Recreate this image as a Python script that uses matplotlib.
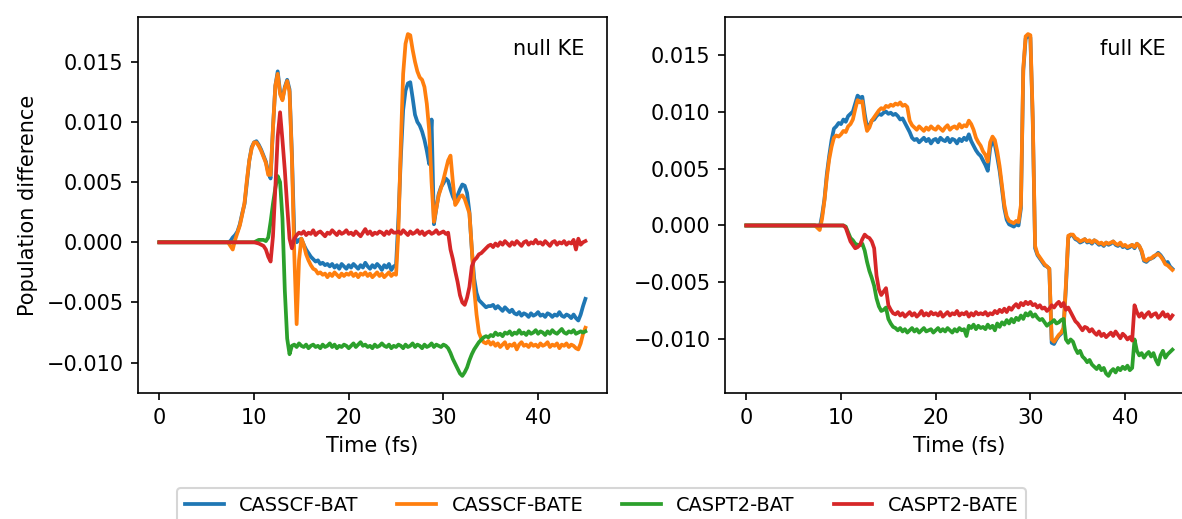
import matplotlib.pyplot as plt
import numpy as np

# population differences, in units of 1e-3, sampled every 0.25 fs from 0 to 45 fs
dt = 0.25

# ---- null KE ----
null_casscf_bat = [
    0, 0, 0, 0, 0, 0, 0, 0, 0, 0, 0, 0, 0, 0, 0, 0, 0, 0, 0, 0,
    0, 0, 0, 0, 0, 0, 0, 0, 0, 0, 0.1, 0.4, 0.6, 0.9, 1.5, 2.4, 3.2, 5.0, 6.8, 7.9,
    8.3, 8.4, 8.1, 7.7, 7.2, 6.7, 5.8, 5.3, 9.5, 13.0, 14.2, 12.5, 11.9, 12.9, 13.5, 12.7, 7.3, 0.6, 0.0, 0.2,
    0.3, -0.2, -0.6, -0.9, -1.2, -1.4, -1.6, -1.5, -1.8, -1.7, -1.9, -1.8, -2.0, -1.8, -2.1, -1.9, -2.2, -1.8, -2.0, -2.2,
    -1.9, -2.1, -1.8, -2.0, -2.2, -1.9, -2.1, -1.7, -2.0, -2.2, -1.9, -2.1, -1.8, -2.0, -2.3, -1.9, -2.1, -1.8, -2.3, -2.0,
    -1.9, 2.0, 7.0, 11.0, 12.6, 13.2, 13.3, 12.0, 10.6, 10.0, 9.7, 9.2, 8.5, 7.6, 6.5, 10.2, 1.5, 2.8, 4.0, 4.6,
    4.9, 5.3, 5.1, 4.4, 3.8, 3.4, 3.9, 4.4, 4.8, 4.7, 4.1, 2.5, -0.6, -3.0, -4.2, -4.8, -5.0, -5.2, -5.4, -5.3,
    -5.3, -5.2, -5.5, -5.3, -5.5, -5.7, -5.4, -5.6, -5.8, -5.6, -5.9, -6.0, -5.8, -6.1, -5.9, -6.0, -6.2, -5.9, -6.1, -6.0,
    -5.8, -6.1, -6.0, -6.2, -5.9, -6.0, -6.2, -6.0, -6.1, -5.8, -6.1, -6.2, -6.0, -6.1, -6.3, -6.0, -6.3, -6.5, -6.0, -5.3,
    -4.7]
null_casscf_bate = [
    0, 0, 0, 0, 0, 0, 0, 0, 0, 0, 0, 0, 0, 0, 0, 0, 0, 0, 0, 0,
    0, 0, 0, 0, 0, 0, 0, 0, 0, 0, -0.3, -0.6, 0.2, 0.8, 1.4, 2.3, 3.3, 5.2, 6.8, 7.8,
    8.3, 8.3, 8.0, 7.6, 7.1, 6.6, 5.6, 5.6, 9.5, 13.0, 14.0, 12.3, 11.8, 12.8, 13.4, 12.5, 7.0, -1.0, -6.8, -1.5,
    0.3, -0.2, -1.0, -1.5, -1.9, -2.2, -2.3, -2.6, -2.5, -2.7, -2.6, -2.9, -2.6, -2.8, -2.5, -2.7, -2.9, -2.6, -2.8, -2.6,
    -2.7, -2.5, -2.8, -2.6, -2.9, -2.6, -2.7, -2.5, -2.8, -2.6, -2.9, -2.7, -2.5, -2.8, -2.6, -2.9, -2.7, -2.5, -2.8, -2.6,
    -2.7, 1.0, 8.0, 14.0, 16.5, 17.3, 17.2, 16.0, 15.0, 14.2, 13.7, 13.5, 12.9, 11.5, 9.3, 5.0, 1.7, 2.8, 3.9, 4.5,
    5.2, 6.0, 6.8, 7.2, 5.0, 3.1, 3.4, 3.8, 3.9, 3.6, 3.0, 2.4, -0.5, -3.9, -6.0, -7.5, -8.0, -8.3, -8.4, -8.2,
    -8.5, -8.3, -8.6, -8.4, -8.7, -8.5, -8.3, -8.8, -8.5, -8.6, -8.4, -8.9, -8.5, -8.3, -8.6, -8.5, -8.7, -8.4, -8.6, -8.5,
    -8.7, -8.4, -8.6, -8.5, -8.3, -8.7, -8.5, -8.6, -8.4, -8.8, -8.5, -8.6, -8.4, -8.7, -8.5, -8.6, -8.8, -8.9, -8.4, -7.6,
    -7.1]
null_caspt2_bat = [
    0, 0, 0, 0, 0, 0, 0, 0, 0, 0, 0, 0, 0, 0, 0, 0, 0, 0, 0, 0,
    0, 0, 0, 0, 0, 0, 0, 0, 0, 0, 0, 0, 0, 0, 0, 0, 0, 0, 0, 0,
    0.0, 0.1, 0.2, 0.2, 0.2, 0.1, 0.4, 1.7, 3.2, 4.5, 5.5, 5.0, 2.0, -4.0, -8.0, -9.3, -8.6, -8.5, -8.7, -8.4,
    -8.6, -8.7, -8.5, -8.8, -8.6, -8.5, -8.7, -8.6, -8.8, -8.5, -8.7, -8.6, -8.4, -8.7, -8.5, -8.8, -8.6, -8.7, -8.5, -8.6,
    -8.8, -8.6, -8.4, -8.7, -8.5, -8.3, -8.6, -8.5, -8.7, -8.6, -8.8, -8.5, -8.7, -8.6, -8.4, -8.6, -8.7, -8.5, -8.8, -8.6,
    -8.7, -8.5, -8.6, -8.8, -8.5, -8.7, -8.6, -8.4, -8.7, -8.5, -8.6, -8.8, -8.5, -8.7, -8.6, -8.4, -8.7, -8.5, -8.6, -8.7,
    -8.5, -8.6, -8.8, -9.2, -9.7, -10.1, -10.5, -10.9, -11.1, -10.8, -10.4, -9.8, -9.3, -8.9, -8.6, -8.3, -8.1, -7.9, -7.8, -7.9,
    -7.7, -7.8, -7.5, -7.7, -7.6, -7.8, -7.5, -7.6, -7.4, -7.7, -7.5, -7.6, -7.3, -7.6, -7.5, -7.7, -7.4, -7.6, -7.5, -7.3,
    -7.6, -7.4, -7.5, -7.7, -7.4, -7.6, -7.3, -7.5, -7.6, -7.4, -7.2, -7.5, -7.6, -7.4, -7.5, -7.3, -7.6, -7.5, -7.4, -7.5,
    -7.4]
null_caspt2_bate = [
    0, 0, 0, 0, 0, 0, 0, 0, 0, 0, 0, 0, 0, 0, 0, 0, 0, 0, 0, 0,
    0, 0, 0, 0, 0, 0, 0, 0, 0, 0, 0, 0, 0, 0, 0, 0, 0, 0, 0, 0,
    0.0, -0.05, -0.1, -0.2, -0.3, -0.6, -1.2, -1.6, 0.5, 4.5, 8.8, 10.8, 8.5, 6.0, 3.0, 0.3, -0.5, 0.3, 0.6, 0.8,
    0.7, 0.9, 0.6, 0.8, 0.7, 1.0, 0.6, 0.8, 0.9, 0.7, 0.5, 0.8, 0.7, 1.0, 0.8, 0.6, 0.9, 0.7, 0.8, 1.0,
    0.7, 0.8, 0.6, 0.9, 0.7, 0.5, 0.8, 1.1, 0.7, 0.9, 0.6, 0.8, 0.7, 0.9, 0.8, 0.6, 0.9, 0.7, 1.0, 0.8,
    0.8, 0.9, 0.7, 1.0, 0.8, 0.6, 0.9, 0.7, 0.8, 1.0, 0.7, 0.9, 0.6, 0.8, 0.9, 0.7, 0.8, 1.0, 0.7, 0.8,
    0.9, 0.7, 0.8, -0.6, -1.4, -2.4, -3.3, -4.4, -5.0, -5.2, -4.6, -3.7, -2.0, -1.5, -1.3, -1.0, -0.9, -0.7, -0.5, -0.3,
    -0.2, -0.4, -0.1, -0.3, 0.0, -0.2, 0.1, -0.1, -0.3, 0.0, -0.2, 0.1, -0.1, -0.3, 0.0, 0.1, -0.2, 0.0, -0.1, 0.2,
    -0.1, 0.0, -0.2, 0.1, -0.1, -0.3, 0.0, 0.1, -0.2, 0.0, -0.1, 0.1, -0.2, 0.0, -0.1, 0.2, -0.6, 0.3, -0.2, 0.0,
    0.1]

# ---- full KE ----
full_casscf_bat = [
    0, 0, 0, 0, 0, 0, 0, 0, 0, 0, 0, 0, 0, 0, 0, 0, 0, 0, 0, 0,
    0, 0, 0, 0, 0, 0, 0, 0, 0, 0, -0.1, -0.2, 0.9, 2.3, 4.5, 6.1, 7.5, 8.5, 8.7, 9.0,
    8.9, 9.3, 9.1, 9.6, 9.8, 10.0, 10.7, 11.4, 11.2, 11.3, 9.8, 8.6, 8.8, 9.2, 9.3, 9.6, 9.8, 9.7, 9.9, 10.0,
    9.8, 9.9, 9.7, 9.8, 9.6, 9.3, 9.4, 9.0, 8.6, 8.2, 7.7, 7.5, 7.6, 7.3, 7.5, 7.7, 7.4, 7.6, 7.2, 7.5,
    7.6, 7.3, 7.7, 7.5, 7.4, 7.7, 7.3, 7.6, 7.5, 7.2, 7.6, 7.4, 7.7, 7.5, 8.0, 7.4, 7.0, 6.6, 6.3, 6.1,
    5.7, 5.3, 4.8, 6.8, 7.4, 7.1, 6.0, 4.8, 3.2, 1.5, 0.5, 0.1, 0.0, -0.1, 0.1, 0.0, 1.5, 13.6, 16.4, 16.6,
    16.5, 9.2, -2.0, -2.6, -2.9, -3.2, -3.5, -3.6, -3.8, -10.3, -10.4, -10.0, -9.7, -9.5, -9.1, -5.5, -1.1, -0.8, -0.9, -1.2,
    -1.3, -1.5, -1.4, -1.2, -1.5, -1.4, -1.6, -1.3, -1.5, -1.7, -1.6, -1.8, -1.5, -1.7, -1.6, -1.4, -1.7, -1.8, -1.6, -1.9,
    -1.8, -2.0, -1.9, -1.7, -2.0, -1.6, -1.8, -2.3, -3.1, -3.2, -3.0, -2.9, -2.8, -2.6, -2.4, -2.6, -2.9, -3.3, -3.2, -3.6,
    -3.8]
full_casscf_bate = [
    0, 0, 0, 0, 0, 0, 0, 0, 0, 0, 0, 0, 0, 0, 0, 0, 0, 0, 0, 0,
    0, 0, 0, 0, 0, 0, 0, 0, 0, 0, -0.2, -0.4, 0.6, 2.2, 4.2, 5.8, 6.9, 7.7, 7.9, 7.8,
    8.0, 8.3, 8.2, 8.7, 8.9, 9.3, 10.2, 11.0, 10.8, 10.9, 9.3, 8.3, 8.6, 9.2, 9.5, 9.8, 10.1, 10.3, 10.2, 10.5,
    10.4, 10.6, 10.5, 10.7, 10.6, 10.8, 10.5, 10.6, 10.4, 9.2, 8.8, 8.6, 8.4, 8.7, 8.5, 8.3, 8.6, 8.4, 8.7, 8.5,
    8.4, 8.7, 8.5, 8.3, 8.6, 8.8, 8.4, 8.6, 8.7, 8.5, 8.9, 8.6, 8.8, 8.7, 9.2, 8.9, 8.4, 7.7, 7.3, 7.0,
    6.5, 6.2, 5.6, 7.3, 7.8, 7.5, 6.5, 5.2, 3.5, 1.8, 0.8, 0.4, 0.3, 0.2, 0.4, 0.3, 1.8, 13.8, 16.6, 16.8,
    16.7, 9.5, -1.8, -2.5, -2.8, -3.1, -3.4, -3.6, -3.8, -10.0, -10.2, -9.9, -9.6, -9.4, -9.0, -5.2, -0.9, -0.8, -0.8, -1.1,
    -1.2, -1.4, -1.3, -1.2, -1.4, -1.3, -1.5, -1.3, -1.4, -1.6, -1.5, -1.7, -1.5, -1.6, -1.5, -1.4, -1.6, -1.7, -1.5, -1.8,
    -1.7, -1.9, -1.8, -1.7, -1.9, -1.6, -1.8, -2.2, -3.0, -3.1, -2.9, -2.9, -2.7, -2.6, -2.5, -2.7, -3.0, -3.4, -3.5, -3.7,
    -3.9]
full_caspt2_bat = [
    0, 0, 0, 0, 0, 0, 0, 0, 0, 0, 0, 0, 0, 0, 0, 0, 0, 0, 0, 0,
    0, 0, 0, 0, 0, 0, 0, 0, 0, 0, 0, 0, 0, 0, 0, 0, 0, 0, 0, 0,
    0.0, 0.0, -0.1, -0.6, -1.1, -1.3, -1.6, -1.7, -1.7, -1.6, -2.2, -3.2, -4.0, -4.6, -5.3, -6.4, -7.1, -7.5, -7.4, -7.2,
    -8.2, -8.6, -8.9, -9.0, -9.2, -9.0, -9.3, -9.1, -9.4, -9.2, -9.0, -9.3, -9.1, -9.4, -9.2, -9.0, -9.3, -9.2, -9.1, -9.4,
    -9.2, -9.0, -9.3, -9.1, -9.3, -9.0, -9.2, -9.4, -9.1, -9.3, -9.0, -9.2, -9.1, -9.7, -8.8, -9.0, -8.7, -9.1, -8.8, -9.0,
    -8.9, -9.1, -8.7, -9.0, -8.8, -9.2, -8.6, -8.9, -8.5, -8.7, -8.3, -8.6, -8.2, -8.5, -8.1, -8.3, -7.9, -8.2, -7.7, -7.9,
    -7.6, -8.0, -7.8, -8.1, -8.3, -8.2, -8.5, -8.8, -8.6, -8.5, -8.3, -8.6, -8.5, -8.3, -8.2, -10.0, -10.3, -10.0, -10.2, -10.8,
    -11.2, -11.0, -11.5, -11.7, -12.0, -11.8, -12.2, -12.4, -12.6, -12.3, -12.7, -12.5, -13.0, -13.2, -12.8, -12.6, -12.9, -12.5, -12.7, -12.4,
    -12.6, -12.3, -12.7, -12.5, -10.0, -11.0, -11.4, -11.2, -11.6, -11.3, -11.1, -11.5, -11.2, -11.8, -12.2, -11.4, -11.0, -11.6, -11.3, -11.1,
    -10.9]
full_caspt2_bate = [
    0, 0, 0, 0, 0, 0, 0, 0, 0, 0, 0, 0, 0, 0, 0, 0, 0, 0, 0, 0,
    0, 0, 0, 0, 0, 0, 0, 0, 0, 0, 0, 0, 0, 0, 0, 0, 0, 0, 0, 0,
    0.0, 0.0, -0.2, -0.8, -1.4, -1.7, -2.0, -1.9, -1.7, -1.2, -0.8, -1.0, -1.1, -1.4, -2.0, -4.4, -5.6, -6.1, -5.8, -5.5,
    -7.0, -7.4, -7.7, -7.8, -7.6, -7.9, -7.7, -8.0, -7.8, -7.6, -7.9, -7.7, -8.0, -7.8, -7.5, -7.9, -7.7, -7.9, -7.6, -7.8,
    -7.7, -7.9, -7.6, -8.0, -7.8, -7.6, -7.9, -7.7, -7.8, -7.5, -7.9, -7.7, -7.8, -7.6, -8.0, -7.7, -7.9, -7.6, -7.8, -7.7,
    -7.8, -7.6, -7.9, -7.7, -7.8, -7.5, -7.7, -7.4, -7.6, -7.3, -7.6, -7.2, -7.4, -7.1, -6.9, -7.2, -6.8, -7.0, -6.7, -6.9,
    -6.7, -7.0, -6.9, -7.2, -7.0, -7.3, -7.2, -7.5, -7.3, -7.0, -7.2, -6.9, -6.7, -7.1, -6.8, -7.4, -7.2, -7.6, -8.0, -8.4,
    -8.6, -8.9, -9.2, -8.9, -9.0, -9.3, -9.1, -9.4, -9.6, -9.3, -9.7, -9.5, -9.8, -9.6, -9.4, -9.7, -9.3, -9.6, -9.9, -9.5,
    -9.7, -10.0, -9.8, -10.1, -7.0, -7.6, -8.0, -7.7, -8.1, -7.8, -7.6, -8.0, -7.8, -7.7, -8.1, -7.9, -7.6, -8.0, -7.8, -8.2,
    -7.9]

labels = ['CASSCF-BAT', 'CASSCF-BATE', 'CASPT2-BAT', 'CASPT2-BATE']
panels = [
    ('null KE', [null_casscf_bat, null_casscf_bate, null_caspt2_bat, null_caspt2_bate]),
    ('full KE', [full_casscf_bat, full_casscf_bate, full_caspt2_bat, full_caspt2_bate]),
]

fig = plt.figure(figsize=(1182 / 150, 519 / 150), dpi=150)
ax1 = fig.add_axes([0.1168, 0.2428, 0.3965, 0.7245])
ax2 = fig.add_axes([0.6134, 0.2428, 0.3965, 0.7245])

for ax, (title, series) in zip([ax1, ax2], panels):
    for lab, vals in zip(labels, series):
        vals = np.array(vals) * 1e-3
        t = np.arange(len(vals)) * dt
        ax.plot(t, vals, label=lab, lw=1.8)
    ax.text(0.8, 0.9, title, transform=ax.transAxes)
    ax.set_xlabel('Time (fs)')

ax1.set_ylabel('Population difference')

handles, labs = ax1.get_legend_handles_labels()
fig.legend(handles, labs, loc='upper center', bbox_to_anchor=(0.509, 0.0597),
           ncol=4, borderaxespad=0, fontsize=9.3)

fig.savefig('out.png', dpi=150)
